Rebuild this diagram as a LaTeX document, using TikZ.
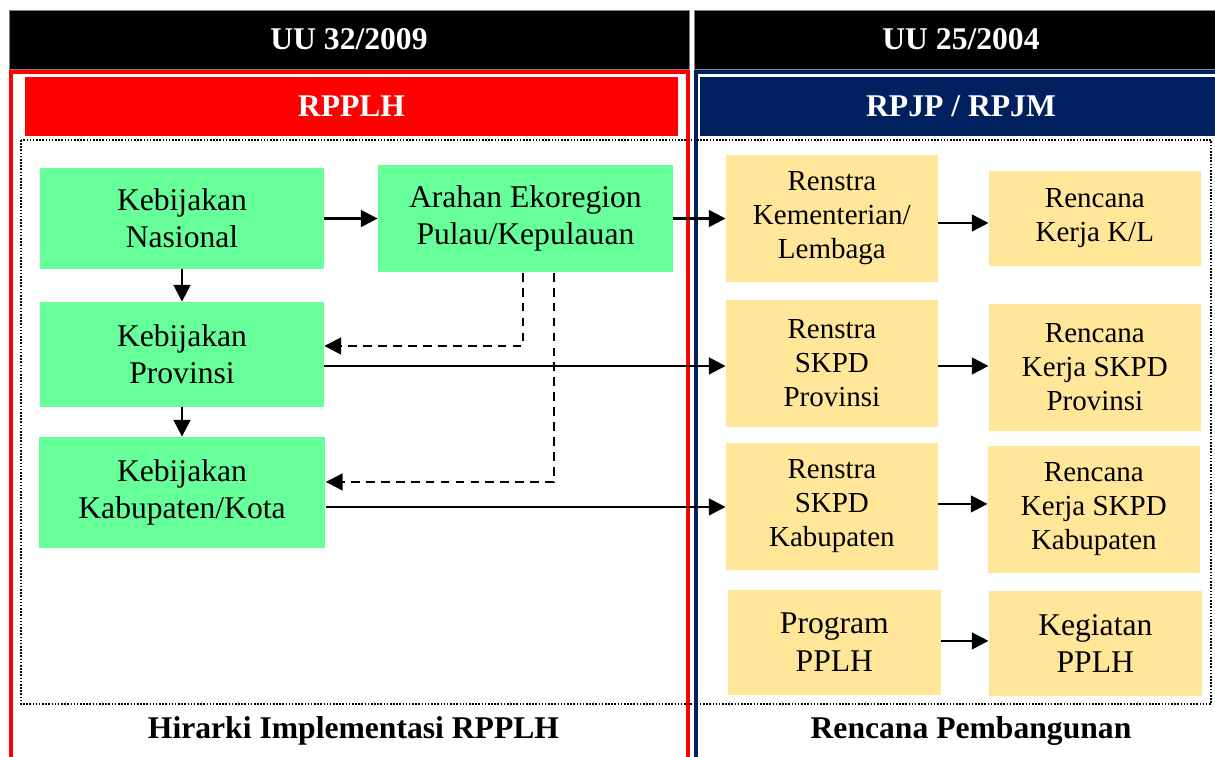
\documentclass[tikz,border=0pt]{standalone}
\usepackage{fontspec}
\setmainfont{Liberation Serif}
\usetikzlibrary{positioning,arrows.meta}
\definecolor{hijau}{RGB}{102,255,153}
\definecolor{kuning}{RGB}{255,230,153}
\definecolor{biru}{RGB}{0,32,96}
\definecolor{merah}{RGB}{255,0,0}

\begin{document}
\begin{tikzpicture}[x=0.02cm, y=-0.02cm,
    kebijakan/.style = {fill=hijau, inner sep=0pt, align=center, font=\fontsize{18}{21}\selectfont},
    rencana/.style = {fill=kuning, inner sep=0pt, align=center, minimum width=4.24cm, minimum height=2.54cm, font=\fontsize{16.5}{19.3}\selectfont},
    judul/.style = {fill=black, draw=gray, text=white, inner sep=0pt, minimum height=1.18cm, font=\fontsize{18}{21}\selectfont\bfseries},
    kaki/.style = {anchor=base, font=\fontsize{18}{21}\selectfont\bfseries},
    panah/.style = {line width=1.4pt, -{Triangle[length=9.5pt, width=9.5pt]}},
    putus/.style = {panah, line width=1.2pt, dash pattern=on 5pt off 3.5pt}]

    \useasboundingbox (0,0) rectangle (1215,757);

    \node[judul, minimum width=13.6cm] (uu1) at (349,39.5) {UU 32/2009};
    \node[judul, minimum width=10.68cm] (uu2) at (961,39.5) {UU 25/2004};

    \draw[merah, line width=2pt] (11,72) rectangle (688,790);
    \draw[biru, line width=2pt] (696,72) rectangle (1240,790);
    \node[judul, fill=merah, draw=none, minimum width=13.06cm] (rpplh) at (351.5,106.5) {RPPLH};
    \node[judul, fill=biru, draw=none, minimum width=10.46cm] (rpjp) at (961,106.5) {RPJP / RPJM};
    \draw[line width=0.9pt, dash pattern=on 0.9pt off 0.9pt] (21,140) rectangle (1211,704);

    \node[kebijakan, minimum width=5.68cm, minimum height=2.02cm] (1) at (182,218.5) {Kebijakan\\Nasional};
    \node[kebijakan, minimum width=5.9cm, minimum height=2.16cm] (2) [right of=1, node distance=6.87cm] {Arahan Ekoregion\\Pulau/Kepulauan};
    \node[kebijakan, minimum width=5.68cm, minimum height=2.1cm] (3) [below of=1, node distance=2.72cm] {Kebijakan\\Provinsi};
    \node[kebijakan, minimum width=5.74cm, minimum height=2.22cm] (4) [below of=3, node distance=2.76cm] {Kebijakan\\Kabupaten/Kota};

    \node[rencana] (5) [right of=2, node distance=6.13cm] {Renstra\\Kementerian/\\Lembaga};
    \node[rencana, minimum height=1.9cm] (6) [right of=5, node distance=5.26cm] {Rencana\\Kerja K/L};
    \node[rencana] (7) [below of=5, node distance=2.9cm] {Renstra\\SKPD\\Provinsi};
    \node[rencana, yshift=-0.08cm] (8) [right of=7, node distance=5.26cm] {Rencana\\Kerja SKPD\\Provinsi};
    \node[rencana] (9) [below of=7, node distance=2.86cm] {Renstra\\SKPD\\Kabupaten};
    \node[rencana, yshift=-0.06cm] (10) [right of=9, node distance=5.24cm] {Rencana\\Kerja SKPD\\Kabupaten};
    \node[rencana, minimum width=4.26cm, minimum height=2.1cm, xshift=0.05cm, font=\fontsize{18}{21.5}\selectfont] (11) [below of=9, node distance=2.72cm] {Program\\PPLH};
    \node[rencana, minimum width=4.26cm, minimum height=2.1cm, yshift=-0.02cm, font=\fontsize{18}{21.5}\selectfont] (12) [right of=11, node distance=5.22cm] {Kegiatan\\PPLH};

    \node[kaki] (kaki1) at (353.5,738) {Hirarki Implementasi RPPLH};
    \node[kaki] (kaki2) at (971,738) {Rencana Pembangunan};

    \draw[panah] (1) -- (2);
    \draw[panah] (1) -- (3);
    \draw[panah] (3) -- (4);
    \draw[panah] (2) -- (5);
    \draw[panah] ([yshift=-0.09cm]5.east) -- ([yshift=-0.09cm]5.east -| 6.west);
    \draw[panah] ([yshift=-0.23cm]3.east) -- ([yshift=-0.23cm]3.east -| 7.west);
    \draw[panah] ([yshift=-0.05cm]7.east) -- ([yshift=-0.05cm]7.east -| 8.west);
    \draw[panah] ([yshift=-0.29cm]4.east) -- ([yshift=-0.29cm]4.east -| 9.west);
    \draw[panah] ([yshift=0.05cm]9.east) -- ([yshift=0.05cm]9.east -| 10.west);
    \draw[panah] ([yshift=0.03cm]11.east) -- ([yshift=0.03cm]11.east -| 12.west);

    \draw[putus] ([xshift=-0.05cm]2.south) |- ([yshift=0.17cm]3.east);
    \draw[putus] ([xshift=0.57cm]2.south) |- ([yshift=0.21cm]4.east);

\end{tikzpicture}
\end{document}
